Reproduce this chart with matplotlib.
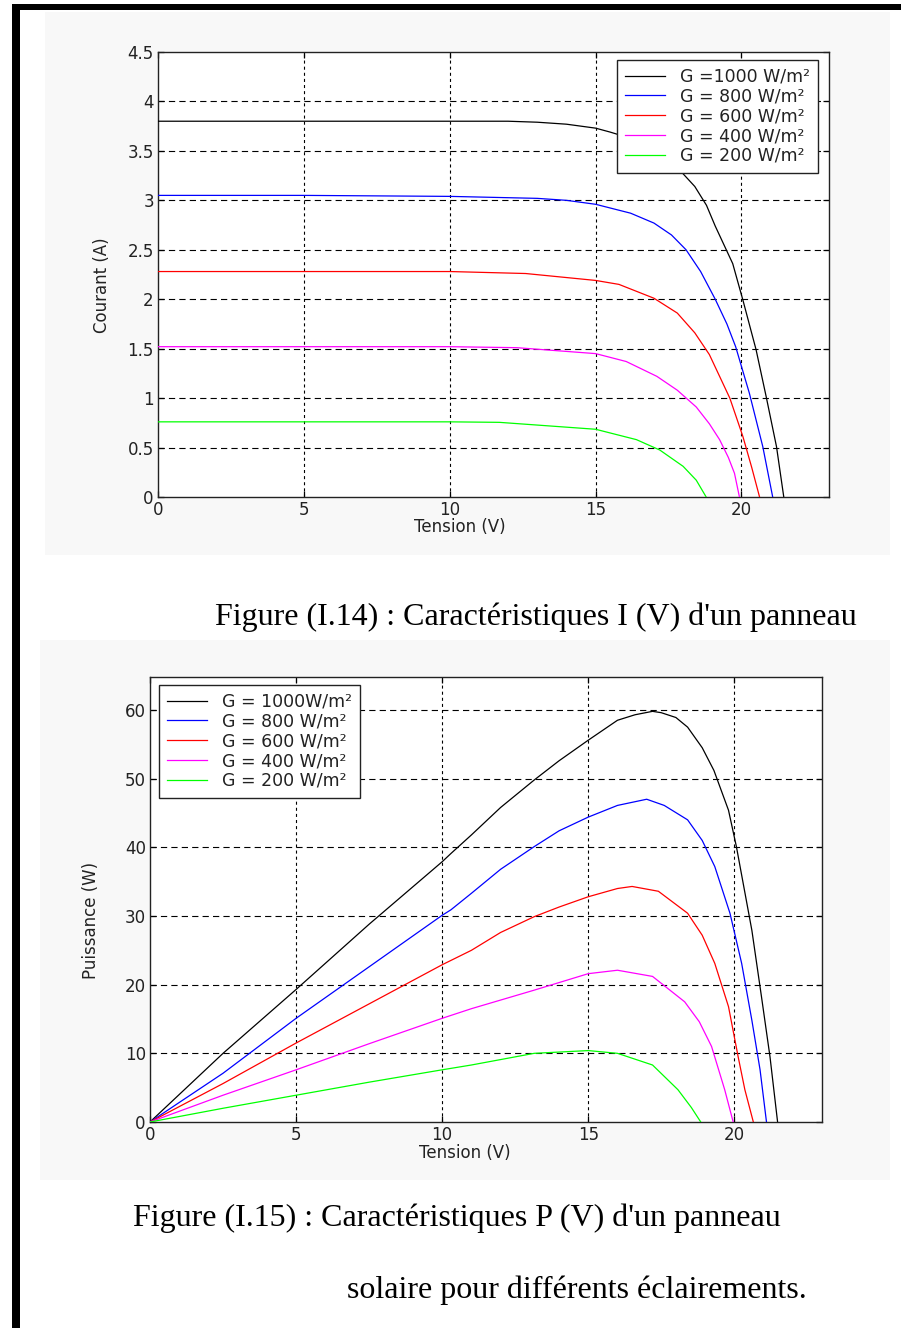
import matplotlib
matplotlib.use("Agg")
import matplotlib.pyplot as plt
import matplotlib.patches as mpatches

# ── Data ──────────────────────────────────────────────────────────────────────

LABELS_IV = ["G =1000 W/m²", "G = 800 W/m²", "G = 600 W/m²",
             "G = 400 W/m²", "G = 200 W/m²"]
LABELS_PV = ["G = 1000W/m²", "G = 800 W/m²", "G = 600 W/m²",
             "G = 400 W/m²", "G = 200 W/m²"]
COLORS = ["#000000", "#0000ff", "#ff0000", "#ff00ff", "#00ff00"]

# I(V) curves
V_1000 = [0, 5, 10, 12, 13, 14, 15, 15.5, 16.5, 17.3, 17.9, 18.4, 18.8, 19.1,
          19.4, 19.7, 20.05, 20.5, 20.85, 21.2, 21.45]
I_1000 = [3.80, 3.80, 3.80, 3.80, 3.79, 3.77, 3.73, 3.69, 3.60, 3.46, 3.30,
          3.14, 2.95, 2.74, 2.55, 2.36, 1.99, 1.49, 1.01, 0.51, 0.0]

V_800 = [0, 5, 10, 13, 14, 15, 16.2, 17, 17.6, 18.1, 18.6, 19.1, 19.5, 19.8,
         20.27, 20.73, 21.07]
I_800 = [3.05, 3.05, 3.04, 3.02, 3.00, 2.96, 2.87, 2.77, 2.65, 2.50, 2.28,
         2.00, 1.75, 1.52, 1.05, 0.51, 0.0]

V_600 = [0, 5, 10, 12.6, 15, 15.8, 17, 17.8, 18.4, 18.9, 19.25, 19.6, 19.82,
         20.05, 20.35, 20.62]
I_600 = [2.28, 2.28, 2.28, 2.26, 2.19, 2.15, 2.01, 1.86, 1.66, 1.44, 1.22,
         1.00, 0.81, 0.61, 0.30, 0.0]

V_400 = [0, 5, 10, 12.3, 15, 16.05, 17.1, 17.8, 18.45, 18.9, 19.25, 19.55,
         19.76, 19.93]
I_400 = [1.52, 1.52, 1.52, 1.51, 1.45, 1.37, 1.22, 1.08, 0.91, 0.74, 0.58,
         0.40, 0.24, 0.0]

V_200 = [0, 5, 10, 11.7, 15, 16.4, 17.2, 18.0, 18.45, 18.79]
I_200 = [0.76, 0.76, 0.76, 0.755, 0.685, 0.58, 0.475, 0.31, 0.17, 0.0]

# P(V) curves
VP_1000 = [0, 2.5, 5, 7.5, 10, 10.3, 11, 12, 13.15, 14, 15, 16, 16.6, 17.2,
           17.5, 18, 18.4, 18.9, 19.3, 19.8, 20.07, 20.6, 20.93, 21.22, 21.48]
P_1000 = [0, 10.0, 19.3, 28.8, 37.9, 39.1, 41.8, 45.8, 49.8, 52.6, 55.6, 58.5,
          59.3, 59.8, 59.6, 58.9, 57.5, 54.5, 51.2, 45.4, 40.1, 27.9, 18.2,
          9.5, 0.0]

VP_800 = [0, 2.5, 5, 7.5, 10, 10.3, 11, 12, 13.15, 14, 15, 16, 17, 17.6, 18.4,
          18.9, 19.33, 19.85, 20.25, 20.6, 20.88, 21.1]
P_800 = [0, 7.1, 15.1, 22.6, 30.1, 30.9, 33.3, 36.8, 40.1, 42.4, 44.4, 46.1,
         47.0, 46.1, 44.0, 41.0, 37.2, 30.4, 23.1, 14.8, 7.6, 0.0]

VP_600 = [0, 2.5, 5, 7.5, 10, 11, 12, 13.15, 14, 15, 16, 16.5, 17.4, 18.4,
          18.9, 19.33, 19.8, 20.13, 20.36, 20.65]
P_600 = [0, 5.6, 11.5, 17.2, 22.9, 25.0, 27.6, 29.9, 31.3, 32.8, 34.0, 34.3,
         33.6, 30.4, 27.2, 23.1, 16.8, 9.5, 4.7, 0.0]

VP_400 = [0, 2.5, 5, 7.5, 10, 11, 13.15, 15, 16, 17.2, 18.3, 18.8, 19.22,
          19.67, 19.96]
P_400 = [0, 3.9, 7.6, 11.4, 15.1, 16.5, 19.2, 21.6, 22.1, 21.2, 17.5, 14.6,
         11.0, 4.7, 0.0]

VP_200 = [0, 2.5, 5, 7.5, 10, 11, 13.15, 15, 16, 17.2, 18.07, 18.53, 18.85]
P_200 = [0, 2.0, 3.9, 5.8, 7.6, 8.3, 10.0, 10.4, 10.0, 8.3, 4.7, 2.1, 0.0]

IV_SERIES = [(V_1000, I_1000), (V_800, I_800), (V_600, I_600),
             (V_400, I_400), (V_200, I_200)]
PV_SERIES = [(VP_1000, P_1000), (VP_800, P_800), (VP_600, P_600),
             (VP_400, P_400), (VP_200, P_200)]

X_TICKS = [0, 5, 10, 15, 20]
I_TICKS = [0, 0.5, 1, 1.5, 2, 2.5, 3, 3.5, 4, 4.5]
I_TICKLABELS = ["0", "0.5", "1", "1.5", "2", "2.5", "3", "3.5", "4", "4.5"]
P_TICKS = [0, 10, 20, 30, 40, 50, 60]

CAPTION_1 = "Figure (I.14) : Caractéristiques I (V) d'un panneau"
CAPTION_2 = "Figure (I.15) : Caractéristiques P (V) d'un panneau"
CAPTION_3 = "solaire pour différents éclairements."

# ── Style ─────────────────────────────────────────────────────────────────────

W, H = 901, 1328
plt.rcParams["font.family"] = ["DejaVu Sans"]
plt.rcParams["lines.scale_dashes"] = False

TICK_FS = 12
LABEL_FS = 12
LEGEND_FS = 12.5
CAPTION_FONT = ["Liberation Serif", "DejaVu Serif"]
TEXT_COLOR = "#222222"

LEGEND_KW = dict(fontsize=LEGEND_FS, frameon=True, fancybox=False,
                 edgecolor="#222222", framealpha=1, handlelength=2.3,
                 handletextpad=0.9, labelspacing=0.1, borderpad=0.45,
                 borderaxespad=0)


def fig_rect(x0, y0, x1, y1):
    """pixel box (top-left origin) -> figure fraction rect"""
    return [x0 / W, 1 - y1 / H, (x1 - x0) / W, (y1 - y0) / H]


def style_axes(ax, xlim, ylim, yticks, yticklabels=None):
    ax.set_xlim(*xlim)
    ax.set_ylim(*ylim)
    ax.set_xticks(X_TICKS)
    ax.set_yticks(yticks)
    if yticklabels is not None:
        ax.set_yticklabels(yticklabels)
    ax.set_facecolor("white")
    ax.tick_params(direction="in", length=4, width=0.9, top=True, right=True,
                   labelsize=TICK_FS, labelcolor=TEXT_COLOR, pad=3)
    for s in ax.spines.values():
        s.set_linewidth(1.0)
        s.set_color("#222222")
    # matlab-ish grid: dashed horizontals, dotted verticals
    for x in X_TICKS[1:]:
        ax.axvline(x, color="black", lw=0.8, ls=(0, (2.2, 2.2)), zorder=1)
    for y in yticks[1:]:
        if y < ylim[1]:
            ax.axhline(y, color="black", lw=0.8, ls=(0, (4.5, 3.0)), zorder=1)


def style_legend(leg):
    leg.get_frame().set_linewidth(1.0)
    for t in leg.get_texts():
        t.set_color(TEXT_COLOR)


fig = plt.figure(figsize=(W / 100, H / 100), dpi=100, facecolor="white")

# page background panels and frame (kept behind the axes)
for box in [(45, 12, 890, 555), (40, 640, 890, 1180)]:
    r = fig_rect(*box)
    fig.patches.append(mpatches.Rectangle((r[0], r[1]), r[2], r[3],
                                          transform=fig.transFigure,
                                          facecolor="#f8f8f8", edgecolor="none",
                                          zorder=-2))
for box in [(12, 4, 901, 10), (12, 4, 20, 1328)]:
    r = fig_rect(*box)
    fig.patches.append(mpatches.Rectangle((r[0], r[1]), r[2], r[3],
                                          transform=fig.transFigure,
                                          facecolor="black", edgecolor="none",
                                          zorder=-1))

# ── I(V) chart ────────────────────────────────────────────────────────────────
ax1 = fig.add_axes(fig_rect(158, 52, 829, 497))
style_axes(ax1, (0, 23), (0, 4.5), I_TICKS, I_TICKLABELS)
for (v, i), c, lab in zip(IV_SERIES, COLORS, LABELS_IV):
    ax1.plot(v, i, color=c, lw=0.9, label=lab, zorder=3)
ax1.set_xlabel("Tension (V)", fontsize=LABEL_FS, color=TEXT_COLOR)
ax1.set_ylabel("Courant (A)", fontsize=LABEL_FS, color=TEXT_COLOR)
ax1.xaxis.set_label_coords(0.45, -0.048)
ax1.yaxis.set_label_coords(-0.07, 0.476)
style_legend(ax1.legend(loc="upper right", bbox_to_anchor=(0.9836, 0.982),
                        **LEGEND_KW))

# ── P(V) chart ────────────────────────────────────────────────────────────────
ax2 = fig.add_axes(fig_rect(150, 677, 822, 1122))
style_axes(ax2, (0, 23), (0, 64.8), P_TICKS)
for (v, p), c, lab in zip(PV_SERIES, COLORS, LABELS_PV):
    ax2.plot(v, p, color=c, lw=0.9, label=lab, zorder=3)
ax2.set_xlabel("Tension (V)", fontsize=LABEL_FS, color=TEXT_COLOR)
ax2.set_ylabel("Puissance (W)", fontsize=LABEL_FS, color=TEXT_COLOR)
ax2.xaxis.set_label_coords(0.469, -0.05)
ax2.yaxis.set_label_coords(-0.075, 0.454)
style_legend(ax2.legend(loc="upper left", bbox_to_anchor=(0.0134, 0.982),
                        **LEGEND_KW))

# ── Captions ──────────────────────────────────────────────────────────────────
fig.text(215 / W, 1 - 617 / H, CAPTION_1, family=CAPTION_FONT, fontsize=23,
         ha="left", va="center", color="black")
fig.text(133 / W, 1 - 1218 / H, CAPTION_2, family=CAPTION_FONT, fontsize=23,
         ha="left", va="center", color="black")
fig.text(347 / W, 1 - 1290 / H, CAPTION_3, family=CAPTION_FONT, fontsize=23,
         ha="left", va="center", color="black")

fig.savefig("out.png", dpi=100, facecolor="white")
